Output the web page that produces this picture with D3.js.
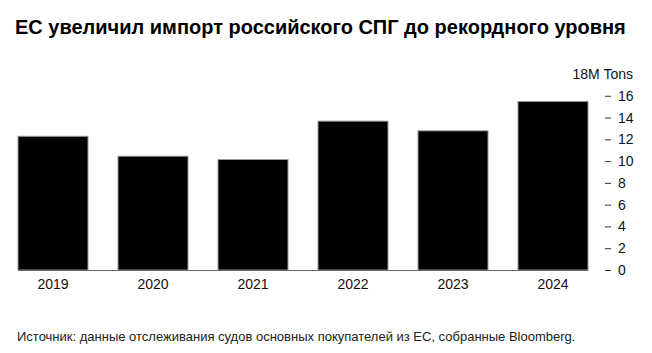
<!DOCTYPE html>
<html>
<head>
<meta charset="utf-8">
<script src="https://cdn.jsdelivr.net/npm/d3@7"></script>
<style>
  body { margin: 0; background: #fff; }
  text { font-family: "Liberation Sans", Arial, sans-serif; }
</style>
</head>
<body>
<div id="chart"></div>
<script>
const years = ["2019", "2020", "2021", "2022", "2023", "2024"]
const imports = [12.28, 10.45, 10.15, 13.67, 12.78, 15.48]
const yTicks = [0, 2, 4, 6, 8, 10, 12, 14, 16]

const width = 652
const height = 353
const margin = { top: 74, bottom: 83, left: 3, right: 49 }

let svg = d3.select('#chart').append('svg')
    .attr('width', width)
    .attr('height', height)

// title
svg.append('text')
    .attr('x', 15)
    .attr('y', 34)
    .attr('font-size', '20px')
    .attr('font-weight', 'bold')
    .attr('fill', '#000')
    .text('ЕС увеличил импорт российского СПГ до рекордного уровня')

let xScale = d3.scaleBand()
    .domain(years)
    .range([margin.left, width - margin.right])
    .paddingInner(0.3)
    .paddingOuter(0.15)

let yScale = d3.scaleLinear()
    .domain([0, 18])
    .range([height - margin.bottom, margin.top])

let chart = svg.append('g')

chart.selectAll('rect')
    .data(imports)
    .join('rect')
    .attr('x', (d, i) => xScale(years[i]))
    .attr('y', d => yScale(d))
    .attr('width', xScale.bandwidth())
    .attr('height', d => yScale(0) - yScale(d))
    .attr('fill', '#000')
    .attr('stroke', '#999')
    .attr('stroke-width', 1)

// baseline
chart.append('line')
    .attr('x1', xScale(years[0]))
    .attr('x2', xScale(years[years.length - 1]) + xScale.bandwidth())
    .attr('y1', yScale(0) + 0.5)
    .attr('y2', yScale(0) + 0.5)
    .attr('stroke', '#666')

// x labels
let xAxis = d3.axisBottom(xScale).tickSize(0).tickPadding(9)
let xAxisG = svg.append('g')
    .attr('transform', `translate(0,${yScale(0)})`)
    .call(xAxis)
xAxisG.select('.domain').remove()
xAxisG.selectAll('text').attr('font-size', '14px').attr('fill', '#111')
    .style('font-family', '"Liberation Sans", Arial, sans-serif')

// y axis on the right
let yAxis = d3.axisRight(yScale).tickValues(yTicks).tickSize(6).tickPadding(7)
let yAxisG = svg.append('g')
    .attr('transform', `translate(605,0)`)
    .call(yAxis)
yAxisG.select('.domain').remove()
yAxisG.selectAll('line').attr('stroke', '#333')
yAxisG.selectAll('text').attr('font-size', '14px').attr('fill', '#111')
    .style('font-family', '"Liberation Sans", Arial, sans-serif')

svg.append('text')
    .attr('x', 633)
    .attr('y', yScale(18) + 5)
    .attr('text-anchor', 'end')
    .attr('font-size', '14px')
    .attr('fill', '#111')
    .text('18M Tons')

// source
svg.append('text')
    .attr('x', 17)
    .attr('y', 341)
    .attr('font-size', '13px')
    .attr('fill', '#222')
    .text('Источник: данные отслеживания судов основных покупателей из ЕС, собранные Bloomberg.')
</script>
</body>
</html>
